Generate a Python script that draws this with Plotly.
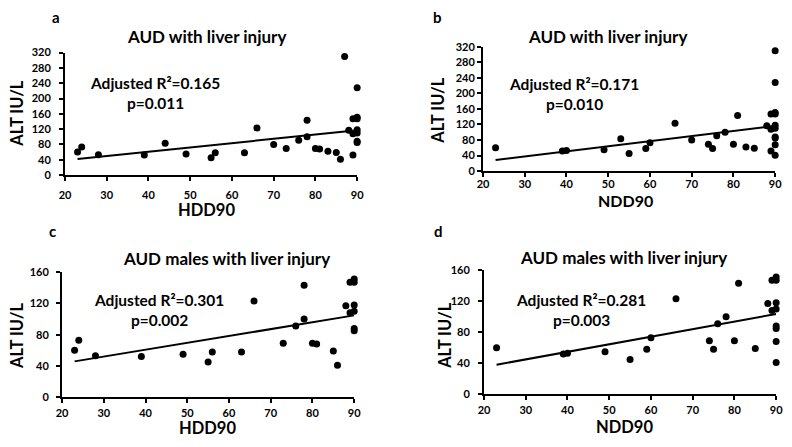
import numpy as np
import plotly.graph_objects as go

# ---------------- data ----------------
male_hdd = [23, 24, 28, 39, 49, 55, 56, 63, 66, 73, 76, 78, 78, 80, 81, 85, 86, 88, 89, 89, 90, 90, 90, 90, 90, 90]
male_ndd = [23, 60, 40, 39, 49, 55, 59, 75, 66, 74, 76, 81, 78, 80, 90, 85, 90, 88, 89, 89, 90, 90, 90, 90, 90, 90]
male_alt = [60, 73, 53, 52, 55, 45, 58, 58, 123, 69, 91, 143, 100, 69, 68, 59, 41, 117, 147, 108, 151, 147, 118, 110, 88, 85]
female_hdd = [44, 70, 83, 87, 89, 90]
female_ndd = [53, 70, 83, 90, 89, 90]
female_alt = [83, 80, 62, 310, 52, 228]

panel_letters = ["a", "b", "c", "d"]
panel_titles = ["AUD with liver injury", "AUD with liver injury",
                "AUD males with liver injury", "AUD males with liver injury"]
x_titles = ["HDD90", "NDD90", "HDD90", "NDD90"]
adj_r2 = ["0.165", "0.171", "0.301", "0.281"]
p_vals = ["0.011", "0.010", "0.002", "0.003"]
x_ticks = [20, 30, 40, 50, 60, 70, 80, 90]
y_ticks_all = [0, 40, 80, 120, 160, 200, 240, 280, 320]
y_ticks_male = [0, 40, 80, 120, 160]

panel_x = [male_hdd + female_hdd, male_ndd + female_ndd, male_hdd, male_ndd]
panel_y = [male_alt + female_alt, male_alt + female_alt, male_alt, male_alt]
panel_yticks = [y_ticks_all, y_ticks_all, y_ticks_male, y_ticks_male]

# ---------------- layout (pixels) ----------------
W, H = 792, 447
def fx(x): return x / W
def fy(y): return 1 - y / H

boxes = [(60, 357, 47, 173), (485, 782, 41, 169), (57, 354, 273, 402), (486, 783, 271, 399)]
title_pos = [(204, 30), (612, 30), (224, 259), (628, 258)]
letter_pos = [(51, 10), (439, 10), (47, 231), (440, 231)]
xtitle_pos = [(204, 209), (630, 199), (205, 434), (629, 433)]
ytitle_pos = [(11, 109), (439, 106), (11, 338), (446, 338)]
stat_pos = [(151, 89), (577, 90), (156, 312), (585, 312)]
x_standoff = [5, -2, 0, 0]
y_standoff = [6, 0, 5, 6]
xtitle_size = [16.5, 16, 16.5, 16.5]

FONT = "Lato"
fig = go.Figure()
annotations = []
layout_axes = {}

for i in range(4):
    xs = np.array(panel_x[i], dtype=float)
    ys = np.array(panel_y[i], dtype=float)
    sfx = "" if i == 0 else str(i + 1)
    xa, ya = "x" + sfx, "y" + sfx

    fig.add_trace(go.Scatter(x=xs, y=ys, mode="markers", xaxis=xa, yaxis=ya,
                             marker=dict(color="black", size=7),
                             cliponaxis=False, showlegend=False, hoverinfo="x+y"))
    slope, inter = np.polyfit(xs, ys, 1)
    lx = np.array([xs.min(), xs.max()])
    fig.add_trace(go.Scatter(x=lx, y=slope * lx + inter, mode="lines", xaxis=xa, yaxis=ya,
                             line=dict(color="black", width=2),
                             cliponaxis=False, showlegend=False, hoverinfo="skip"))

    x0, x1, y0, y1 = boxes[i]
    yt = panel_yticks[i]
    layout_axes["xaxis" + sfx] = dict(
        domain=[fx(x0), fx(x1)], anchor=ya, range=[20, 90], tickvals=x_ticks,
        showline=True, linecolor="black", linewidth=2, ticks="outside", ticklen=4,
        tickwidth=1.5, tickcolor="black", showgrid=False, zeroline=False,
        ticklabelstandoff=x_standoff[i],
        tickfont=dict(family=FONT, size=11, color="black", weight="bold"))
    layout_axes["yaxis" + sfx] = dict(
        domain=[fy(y1), fy(y0)], anchor=xa, range=[0, yt[-1]], tickvals=yt,
        showline=True, linecolor="black", linewidth=2, ticks="outside", ticklen=4,
        tickwidth=1.5, tickcolor="black", showgrid=False, zeroline=False,
        ticklabelstandoff=y_standoff[i],
        tickfont=dict(family=FONT, size=11, color="black", weight="bold"))

    def ann(text, pos, size, angle=0):
        annotations.append(dict(text=text, x=fx(pos[0]), y=fy(pos[1]), xref="paper", yref="paper",
                                xanchor="center", yanchor="middle", showarrow=False, textangle=angle,
                                font=dict(family=FONT, size=size, color="black", weight="bold")))

    ann(panel_titles[i], title_pos[i], 17)
    ann(panel_letters[i], letter_pos[i], 15)
    ann(x_titles[i], xtitle_pos[i], xtitle_size[i])
    ann("ALT IU/L", ytitle_pos[i], 16.5, -90)
    ann("Adjusted R\u00b2=" + adj_r2[i] + "<br>p=" + p_vals[i], stat_pos[i], 15.5)

fig.update_layout(width=W, height=H, margin=dict(l=0, r=0, t=0, b=0),
                  paper_bgcolor="white", plot_bgcolor="white",
                  font=dict(family=FONT, color="black"),
                  annotations=annotations, **layout_axes)

fig.write_html("out.html", config={"displayModeBar": False},
               post_script="document.body.style.margin='0px';document.body.style.overflow='hidden';")
